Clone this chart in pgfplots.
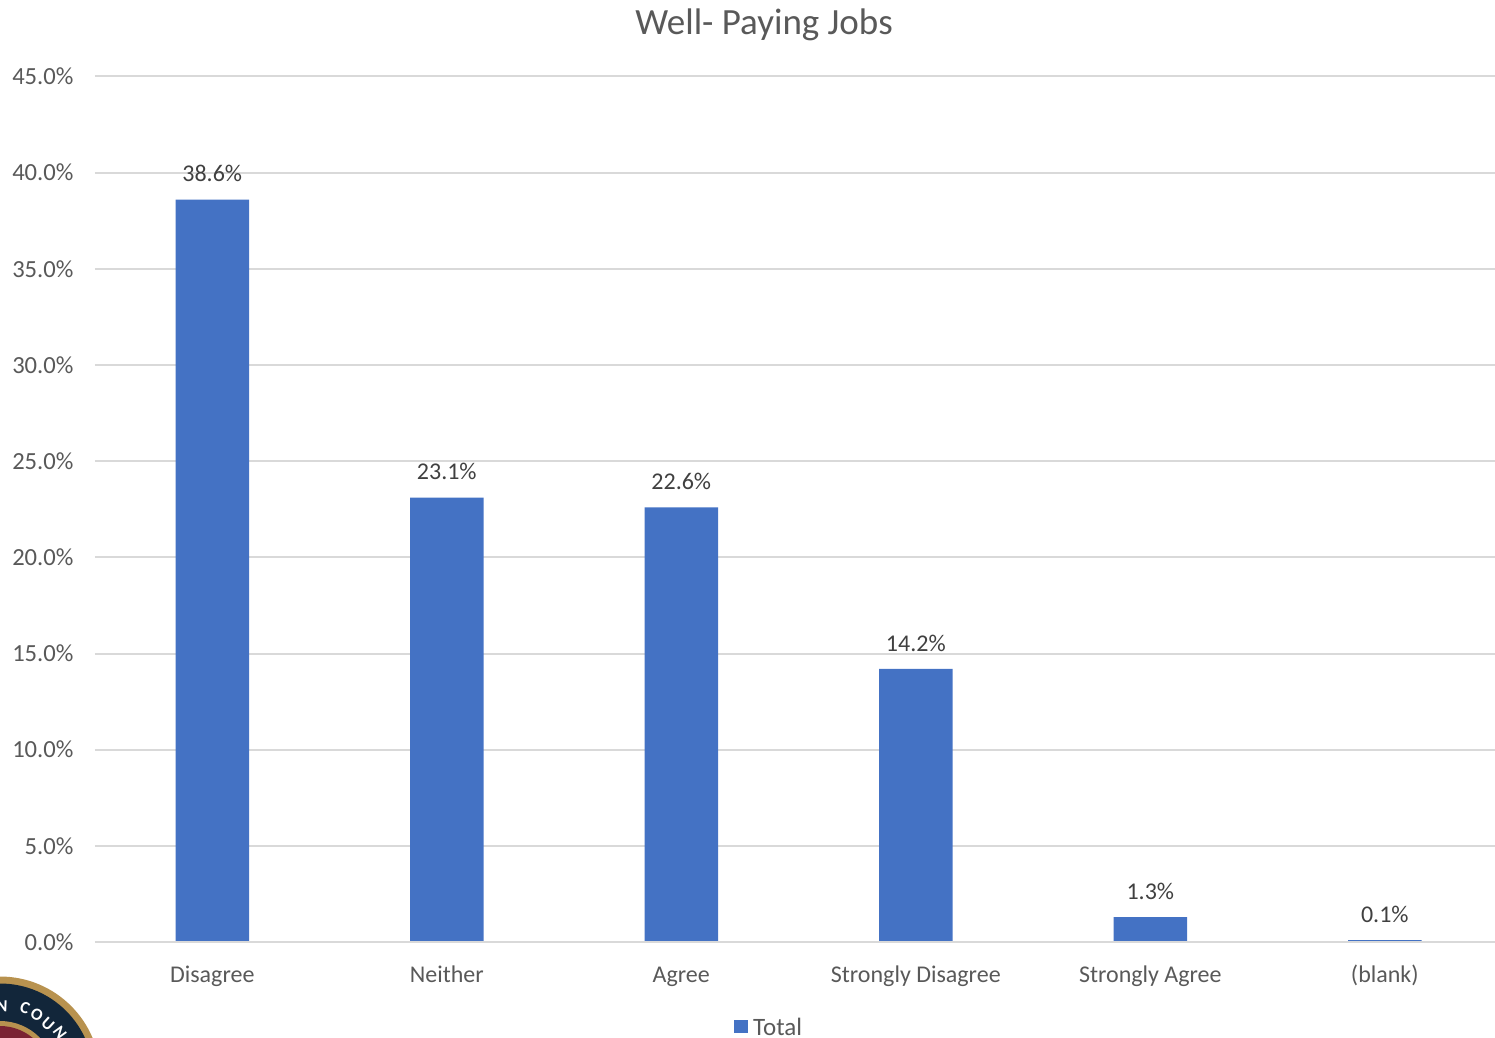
\documentclass[border=0pt]{standalone}
\usepackage{pgfplots}
\pgfplotsset{compat=1.18}
\usepackage{fontspec}
\setmainfont{Carlito}
\definecolor{barblue}{HTML}{4472C4}
\definecolor{gridgray}{HTML}{D9D9D9}
\definecolor{txtgray}{HTML}{595959}
\definecolor{lblgray}{HTML}{404040}
\definecolor{sealgold}{HTML}{B8924F}
\definecolor{sealnavy}{HTML}{12263A}
\definecolor{sealred}{HTML}{7A2333}
\begin{document}
\begin{tikzpicture}[x=1pt,y=1pt]
  % page = reference pixels, origin at the bottom left of the axis
  \useasboundingbox (-95,-95) rectangle (1400,942);
  \begin{axis}[
    at={(0,0)},anchor=south west,
    scale only axis,
    width=1400pt,height=865.5pt,
    ybar,
    bar width=73.5pt,
    xmin=-0.5,xmax=5.47,
    ymin=0,ymax=45,
    ytick={0,5,...,45},
    yticklabel={\pgfmathprintnumber[fixed,fixed zerofill,precision=1]{\tick}\%},
    /pgf/number format/assume math mode=true,
    xtick=data,
    xticklabels={Disagree,Neither,Agree,Strongly Disagree,Strongly Agree,(blank)},
    ymajorgrids,
    grid style={gridgray,line width=2pt},
    axis line style={draw=none},
    axis x line*=bottom,
    axis y line*=left,
    tick style={draw=none},
    ticklabel style={font=\fontsize{24}{28}\selectfont,text=txtgray},
    yticklabel style={font=\fontsize{24.6}{28}\selectfont,xshift=-18pt},
    xticklabel style={text height=16pt,text depth=5pt,yshift=-17pt},
    nodes near coords={\pgfmathprintnumber[fixed,fixed zerofill,precision=1]{\pgfplotspointmeta}\%},
    every node near coord/.append style={font=\fontsize{24}{28}\selectfont,text=lblgray,yshift=14pt},
    point meta=y,
    clip=false,
  ]
    \addplot[fill=barblue,draw=none] coordinates {
      (0,38.6) (1,23.1) (2,22.6) (3,14.2) (4,1.3) (5,0.1)
    };
    \draw[gridgray,line width=2pt] (axis cs:-0.5,0) -- (axis cs:5.47,0);
  \end{axis}
  \node[font=\fontsize{37}{43}\selectfont,text=txtgray] at (669,917) {Well- Paying Jobs};
  \fill[barblue] (639,-91) rectangle (653,-78);
  \node[anchor=west,inner sep=0pt,font=\fontsize{25}{29}\selectfont,text=txtgray] at (658,-84.5) {Total};
  % seal cut off at the bottom left corner
  \begin{scope}
    \clip (-95,-95) rectangle (5,-30);
    \fill[sealgold] (-95,-135) circle (100.5pt);
    \fill[sealnavy] (-95,-135) circle (93.5pt);
    \fill[sealgold] (-95,-135) circle (56pt);
    \fill[sealred] (-95,-135) circle (51pt);
    \foreach \ch/\px/\py/\ang in {N/2/1006/-2,C/25/1008/-20,O/37/1015/-31,U/48/1024/-42,N/60/1033/-54}
      \node[text=white,font=\fontsize{17}{20}\selectfont\bfseries,inner sep=0pt,rotate=\ang] at (\px-95,942-\py) {\ch};
  \end{scope}
\end{tikzpicture}
\end{document}
